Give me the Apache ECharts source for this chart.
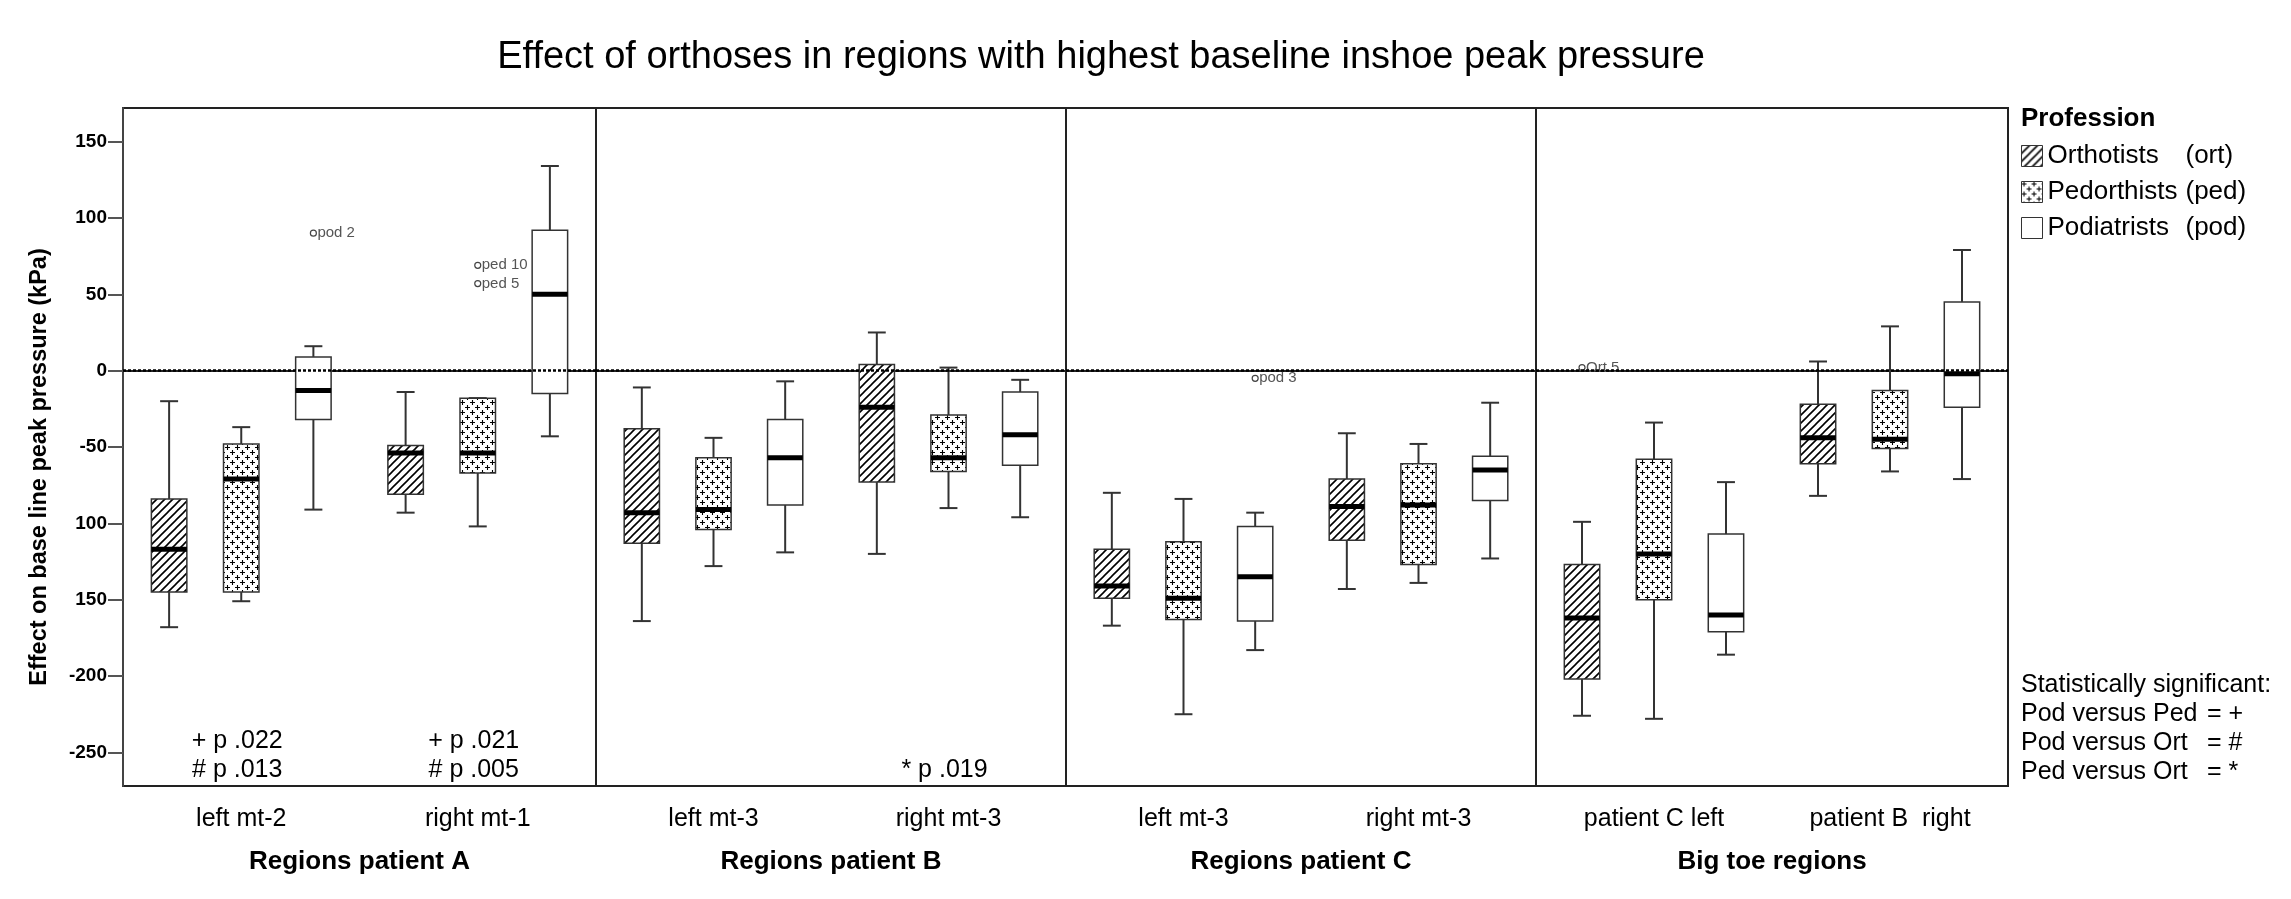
<!DOCTYPE html>
<html>
<head>
<meta charset="utf-8">
<title>Effect of orthoses</title>
<script src="https://cdn.jsdelivr.net/npm/echarts@6/dist/echarts.min.js"></script>
<style>
  html, body { margin: 0; padding: 0; background: #fff; }
  #chart { width: 2291px; height: 899px; }
</style>
</head>
<body>
<div id="chart"></div>
<script>
const panelNames = ['Regions patient A', 'Regions patient B', 'Regions patient C', 'Big toe regions'];
const regionNames = [
  ['left mt-2', 'right mt-1'],
  ['left mt-3', 'right mt-3'],
  ['left mt-3', 'right mt-3'],
  ['patient C left', 'patient B  right']
];
const professions = ['Orthotists', 'Pedorthists', 'Podiatrists'];
const professionTags = ['(ort)', '(ped)', '(pod)'];

// [lower whisker, Q1, median, Q3, upper whisker], one row per region, panel after panel
const orthotists = [
  [-168, -145, -117, -84, -20], [-93, -81, -54, -49, -14],
  [-164, -113, -93, -38, -11], [-120, -73, -24, 4, 25],
  [-167, -149, -141, -117, -80], [-143, -111, -89, -71, -41],
  [-226, -202, -162, -127, -99], [-82, -61, -44, -22, 6]
];
const pedorthists = [
  [-151, -145, -71, -48, -37], [-102, -67, -54, -18, -18],
  [-128, -104, -91, -57, -44], [-90, -66, -57, -29, 2],
  [-225, -163, -149, -112, -84], [-139, -127, -88, -61, -48],
  [-228, -150, -120, -58, -34], [-66, -51, -45, -13, 29]
];
const podiatrists = [
  [-91, -32, -13, 9, 16], [-43, -15, 50, 92, 134],
  [-119, -88, -57, -32, -7], [-96, -62, -42, -14, -6],
  [-183, -164, -135, -102, -93], [-123, -85, -65, -56, -21],
  [-186, -171, -160, -107, -73], [-71, -24, -2, 45, 79]
];

// [region index, profession index, value, label]
const outliers = [
  [0, 2, 90, 'pod 2'],
  [1, 1, 69, 'ped 10'],
  [1, 1, 57, 'ped 5'],
  [4, 2, -5, 'pod 3'],
  [6, 0, 2, 'Ort 5']
];

// [region index, text]
const pNotes = [
  [0, '+ p .022\n# p .013'],
  [1, '+ p .021\n# p .005'],
  [3, '* p .019']
];

const sigLegend = [['Pod versus Ped', '= +'], ['Pod versus Ort', '= #'], ['Ped versus Ort', '= *']];

const yTicks = [-250, -200, -150, -100, -50, 0, 50, 100, 150];
const yTickLabels = ['-250', '-200', '150', '100', '-50', '0', '50', '100', '150'];

const FONT = "'Liberation Sans', Arial, sans-serif";
const gridLeft = [123, 596, 1066, 1536];
const gridWidth = [473, 470, 470, 472];
const yMin = -272, yMax = 172;

function makePattern(size, draw) {
  const c = document.createElement('canvas');
  c.width = size; c.height = size;
  const ctx = c.getContext('2d');
  ctx.fillStyle = '#fff';
  ctx.fillRect(0, 0, size, size);
  ctx.strokeStyle = '#000';
  draw(ctx);
  return { image: c, repeat: 'repeat' };
}

const hatch = makePattern(8, ctx => {
  ctx.lineWidth = 1.6;
  ctx.beginPath();
  ctx.moveTo(-1, 9); ctx.lineTo(9, -1);
  ctx.moveTo(-1, 1); ctx.lineTo(1, -1);
  ctx.moveTo(7, 9); ctx.lineTo(9, 7);
  ctx.stroke();
});
const crosses = makePattern(10, ctx => {
  ctx.lineWidth = 1.1;
  ctx.beginPath();
  ctx.moveTo(0, 2.5); ctx.lineTo(5, 2.5);
  ctx.moveTo(2.5, 0); ctx.lineTo(2.5, 5);
  ctx.moveTo(5, 7.5); ctx.lineTo(10, 7.5);
  ctx.moveTo(7.5, 5); ctx.lineTo(7.5, 10);
  ctx.stroke();
});
const fills = [hatch, crosses, '#fff'];
const profData = [orthotists, pedorthists, podiatrists];

// position of each profession inside a region band, as part of band width
const offsets = [-0.305, 0, 0.305];

function boxRenderer(prof) {
  return function (params, api) {
    const cat = api.value(0);
    const band = api.size([1, 0])[0];
    const x = api.coord([cat, 0])[0] + offsets[prof] * band;
    const half = band * 0.075;
    const cap = band * 0.038;
    const [lo, q1, md, q3, hi] = [1, 2, 3, 4, 5].map(d => api.coord([cat, api.value(d)])[1]);
    const line = (x1, y1, x2, y2) => ({
      type: 'line', shape: { x1, y1, x2, y2 }, style: { stroke: '#333', lineWidth: 2 }
    });
    return {
      type: 'group',
      children: [
        line(x, lo, x, q1), line(x, q3, x, hi),
        line(x - cap, lo, x + cap, lo), line(x - cap, hi, x + cap, hi),
        { type: 'rect', shape: { x: x - half, y: q3, width: 2 * half, height: q1 - q3 },
          style: { fill: fills[prof], stroke: '#333', lineWidth: 1.5 } },
        { type: 'rect', shape: { x: x - half, y: md - 2.5, width: 2 * half, height: 5 },
          style: { fill: '#000' } }
      ]
    };
  };
}

const chart = echarts.init(document.getElementById('chart'));

const grids = [], xAxes = [], yAxes = [], series = [];
for (let g = 0; g < 4; g++) {
  grids.push({
    left: gridLeft[g], top: 108, width: gridWidth[g], height: 678,
    show: true, borderColor: '#222', borderWidth: 2, outerBoundsMode: 'none'
  });
  xAxes.push({
    gridIndex: g, type: 'category', data: regionNames[g],
    axisLine: { lineStyle: { color: '#222', width: 2 } },
    axisTick: { alignWithLabel: true, length: 19, lineStyle: { color: '#888', width: 2 } },
    axisLabel: { fontSize: 25, color: '#000', margin: 21, fontFamily: FONT },
    splitLine: { show: false },
    name: panelNames[g], nameLocation: 'middle', nameGap: 63,
    nameTextStyle: { fontSize: 26, fontWeight: 'bold', color: '#000', fontFamily: FONT }
  });
  if (g === 0) {
    yAxes.push({
      gridIndex: 0, type: 'value', min: yMin, max: yMax,
      axisLine: { show: true, lineStyle: { color: '#444', width: 2 } },
      axisTick: { show: true, length: 15, customValues: yTicks, lineStyle: { color: '#555', width: 2 } },
      axisLabel: {
        customValues: yTicks, formatter: v => yTickLabels[yTicks.indexOf(v)],
        fontSize: 19, fontWeight: 'bold', color: '#000', margin: 16, fontFamily: FONT
      },
      splitLine: { show: false },
      name: 'Effect on base line peak pressure (kPa)', nameLocation: 'middle', nameGap: 71,
      nameTextStyle: {
        fontSize: 23.5, fontWeight: 'bold', color: '#000', padding: [0, 40, 0, 0], fontFamily: FONT
      }
    });
  } else {
    yAxes.push({ gridIndex: g, type: 'value', min: yMin, max: yMax, show: false, splitLine: { show: false } });
  }

  for (let p = 0; p < 3; p++) {
    const s = {
      type: 'custom', name: professions[p], xAxisIndex: g, yAxisIndex: g, silent: true,
      renderItem: boxRenderer(p),
      itemStyle: { color: fills[p], borderColor: '#333', borderWidth: 1.5 },
      encode: { x: 0, y: [1, 2, 3, 4, 5] },
      data: profData[p].slice(2 * g, 2 * g + 2).map((b, i) => [i].concat(b))
    };
    if (p === 0) {
      s.markLine = {
        silent: true, symbol: ['none', 'none'], label: { show: false },
        lineStyle: { type: [3, 2], color: '#000', width: 2.5 },
        data: [{ yAxis: 0 }]
      };
    }
    series.push(s);
  }

  const out = outliers.filter(o => Math.floor(o[0] / 2) === g);
  if (out.length) {
    const labels = out.map(o => o[3]);
    series.push({
      type: 'custom', xAxisIndex: g, yAxisIndex: g, silent: true,
      encode: { x: 0, y: 1 },
      data: out.map(o => [o[0] % 2, o[2], o[1]]),
      renderItem: (params, api) => {
        const cat = api.value(0);
        const band = api.size([1, 0])[0];
        const x = api.coord([cat, 0])[0] + offsets[api.value(2)] * band;
        const y = api.coord([cat, api.value(1)])[1];
        return {
          type: 'group',
          children: [
            { type: 'circle', shape: { cx: x, cy: y, r: 3 }, style: { fill: '#fff', stroke: '#444', lineWidth: 1.2 } },
            { type: 'text', x: x + 4, y: y, style: {
                text: labels[params.dataIndex], fill: '#555', font: '15px ' + FONT,
                align: 'left', verticalAlign: 'middle' } }
          ]
        };
      }
    });
  }

  const notes = pNotes.filter(n => Math.floor(n[0] / 2) === g);
  if (notes.length) {
    const texts = notes.map(n => n[1]);
    series.push({
      type: 'custom', xAxisIndex: g, yAxisIndex: g, silent: true,
      encode: { x: 0, y: 1 },
      data: notes.map(n => [n[0] % 2, yMin + 1]),
      renderItem: (params, api) => {
        const pt = api.coord([api.value(0), api.value(1)]);
        return {
          type: 'text', x: pt[0] - 4, y: pt[1], style: {
            text: texts[params.dataIndex], fill: '#000', font: '25px ' + FONT,
            lineHeight: 29, align: 'center', verticalAlign: 'bottom' }
        };
      }
    });
  }
}

chart.setOption({
  animation: false,
  backgroundColor: '#fff',
  title: {
    text: 'Effect of orthoses in regions with highest baseline inshoe peak pressure',
    left: 1101, top: 39, textAlign: 'center', padding: 0,
    textStyle: { fontSize: 38, fontWeight: 'normal', color: '#000', fontFamily: FONT }
  },
  legend: {
    data: professions, orient: 'vertical', left: 2021, top: 143, padding: 0,
    itemWidth: 21, itemHeight: 21, itemGap: 10, icon: 'rect', selectedMode: false,
    itemStyle: { borderColor: '#333', borderWidth: 1 },
    formatter: name => '{a|' + name + '}{b|' + professionTags[professions.indexOf(name)] + '}',
    textStyle: {
      color: '#000', fontSize: 26, fontFamily: FONT,
      rich: { a: { width: 138, fontSize: 26, lineHeight: 28 }, b: { fontSize: 26, lineHeight: 28 } }
    }
  },
  graphic: [
    { type: 'text', left: 2021, top: 106, style: { text: 'Profession', font: 'bold 26px ' + FONT, fill: '#000' } },
    { type: 'text', left: 2021, top: 671, style: {
        text: 'Statistically significant:\n' + sigLegend.map(r => '{a|' + r[0] + '}{b|' + r[1] + '}').join('\n'),
        font: '25px ' + FONT, fill: '#000', lineHeight: 29,
        rich: { a: { width: 186, fontSize: 25, lineHeight: 29 }, b: { fontSize: 25, lineHeight: 29 } } } }
  ],
  grid: grids,
  xAxis: xAxes,
  yAxis: yAxes,
  series: series
});
</script>
</body>
</html>
